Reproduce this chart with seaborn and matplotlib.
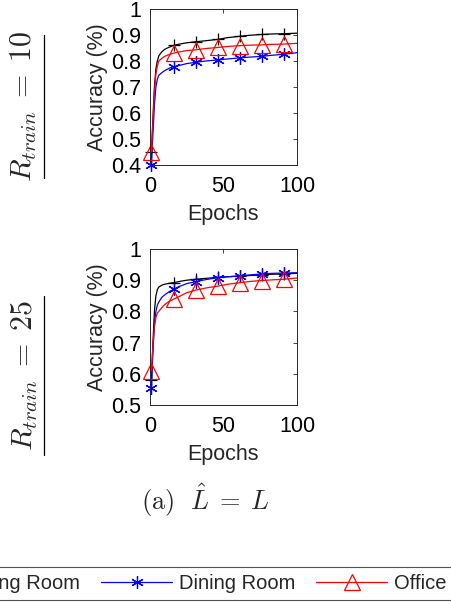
import numpy as np
import pandas as pd
import matplotlib
matplotlib.use("Agg")
import matplotlib.pyplot as plt
from matplotlib.lines import Line2D
import seaborn as sns

# ---------------- data ----------------
epochs = [1, 2, 3, 4, 5, 6, 8, 10, 13, 16, 20, 25, 31, 38, 46, 53, 61, 68, 76, 83, 91, 100]
marker_epochs = [1, 16, 31, 46, 61, 76, 91]
series_names = ["Living Room", "Dining Room", "Office"]

# R_train = 10
r10_living = [0.45, 0.58, 0.70, 0.77, 0.80, 0.82, 0.835, 0.845, 0.853, 0.86, 0.865, 0.870,
              0.874, 0.878, 0.883, 0.89, 0.895, 0.899, 0.902, 0.904, 0.905, 0.907]
r10_dining = [0.40, 0.52, 0.63, 0.70, 0.73, 0.745, 0.755, 0.763, 0.772, 0.778, 0.783, 0.79,
              0.795, 0.80, 0.804, 0.808, 0.812, 0.815, 0.818, 0.822, 0.826, 0.832]
r10_office = [0.45, 0.57, 0.68, 0.75, 0.78, 0.80, 0.81, 0.818, 0.825, 0.83, 0.835, 0.84,
              0.843, 0.848, 0.852, 0.856, 0.859, 0.861, 0.862, 0.864, 0.865, 0.868]

# R_train = 25
r25_living = [0.58, 0.70, 0.80, 0.85, 0.87, 0.878, 0.884, 0.887, 0.89, 0.892, 0.896, 0.90,
              0.903, 0.906, 0.909, 0.911, 0.913, 0.915, 0.917, 0.919, 0.92, 0.922]
r25_dining = [0.555, 0.67, 0.76, 0.80, 0.82, 0.83, 0.845, 0.853, 0.863, 0.871, 0.88, 0.889,
              0.895, 0.902, 0.908, 0.911, 0.914, 0.917, 0.92, 0.922, 0.923, 0.924]
r25_office = [0.61, 0.69, 0.75, 0.78, 0.795, 0.80, 0.812, 0.822, 0.832, 0.839, 0.848, 0.86,
              0.868, 0.875, 0.881, 0.887, 0.892, 0.896, 0.899, 0.901, 0.903, 0.907]

top_yticks = [0.4, 0.5, 0.6, 0.7, 0.8, 0.9, 1.0]
bot_yticks = [0.5, 0.6, 0.7, 0.8, 0.9, 1.0]
xticks = [0, 50, 100]
row_labels = [r"$R_{train} \;=\; 10$", r"$R_{train} \;=\; 25$"]
caption = r"$\mathrm{(a)}\ \ \hat{L} \;=\; L$"

# ---------------- style ----------------
sns.set_theme(style="white")
plt.rcParams["font.family"] = ["Liberation Sans", "DejaVu Sans"]
plt.rcParams["mathtext.fontset"] = "cm"

colors = {"Living Room": "black", "Dining Room": "blue", "Office": "red"}
mstyles = {
    "Living Room": dict(marker="+", markersize=9, markeredgewidth=0.9),
    "Dining Room": dict(marker=(6, 2, 0), markersize=9, markeredgewidth=0.9),
    "Office": dict(marker="^", markersize=11, markeredgewidth=0.9),
}
mark_idx = [epochs.index(e) for e in marker_epochs]

fig = plt.figure(figsize=(4.51, 6.02), dpi=100)
W, H = 451, 602

def add_axes_px(x0, y0, x1, y1):
    return fig.add_axes([x0 / W, 1 - y1 / H, (x1 - x0) / W, (y1 - y0) / H])

ax_top = add_axes_px(150, 9, 297, 165)
ax_bot = add_axes_px(150, 249, 297, 405)

FS = 15.5
panels = [
    (ax_top, [r10_living, r10_dining, r10_office], top_yticks),
    (ax_bot, [r25_living, r25_dining, r25_office], bot_yticks),
]
for ax, vals, yt in panels:
    for name, v in zip(series_names, vals):
        df = pd.DataFrame({"Epochs": epochs, "Accuracy": v})
        sns.lineplot(data=df, x="Epochs", y="Accuracy", ax=ax, color=colors[name],
                     linewidth=0.9, label=name, legend=False)
        line = ax.lines[-1]
        line.set_linestyle("-")
        line.set_marker(mstyles[name]["marker"])
        line.set_markersize(mstyles[name]["markersize"])
        line.set_markeredgewidth(mstyles[name]["markeredgewidth"])
        line.set_markeredgecolor(colors[name])
        line.set_markerfacecolor("none")
        line.set_markevery(mark_idx)
        line.set_clip_on(False)
    ax.set_xlim(0, 100)
    ax.set_ylim(yt[0], yt[-1])
    ax.set_xticks(xticks)
    ax.set_yticks(yt)
    ax.set_yticklabels(["1" if t == 1.0 else f"{t:.1f}" for t in yt])
    ax.tick_params(direction="in", length=3, width=0.6, top=True, right=True,
                   labelsize=FS, colors="#262626")
    ax.tick_params(axis="x", pad=8)
    ax.tick_params(axis="y", pad=6.5)
    for lab in ax.get_xticklabels() + ax.get_yticklabels():
        lab.set_color("black")
    for sp in ax.spines.values():
        sp.set_visible(True)
        sp.set_color("#262626")
        sp.set_linewidth(0.7)
    ax.set_xlabel("Epochs", fontsize=FS, labelpad=5)
    ax.set_ylabel("Accuracy (%)", fontsize=FS, labelpad=2)
    ax.grid(False)

# row labels with underline (rotated)
for lab, (ymin, ymax) in zip(row_labels, [(35, 178), (296, 455)]):
    fig.text(24 / W, 1 - (ymin + ymax) / 2 / H, lab, rotation=90, ha="center", va="center",
             fontsize=21.5)
    fig.add_artist(Line2D([44 / W, 44 / W], [1 - ymin / H, 1 - ymax / H],
                          transform=fig.transFigure, color="black", lw=0.9))

fig.text(205 / W, 1 - 500 / H, caption, ha="center", va="center", fontsize=19)

handles, labels = ax_top.get_legend_handles_labels()
leg = fig.legend(handles, labels, loc="center", bbox_to_anchor=(168.5 / W, 1 - 583.5 / H),
                 ncol=3, fontsize=14.5, frameon=True, fancybox=False, edgecolor="#262626",
                 handlelength=3.5, handletextpad=0.35, columnspacing=1.05,
                 borderpad=0.35, markerscale=1.0)
leg.get_frame().set_linewidth(0.8)

fig.savefig("out.png", dpi=100)
